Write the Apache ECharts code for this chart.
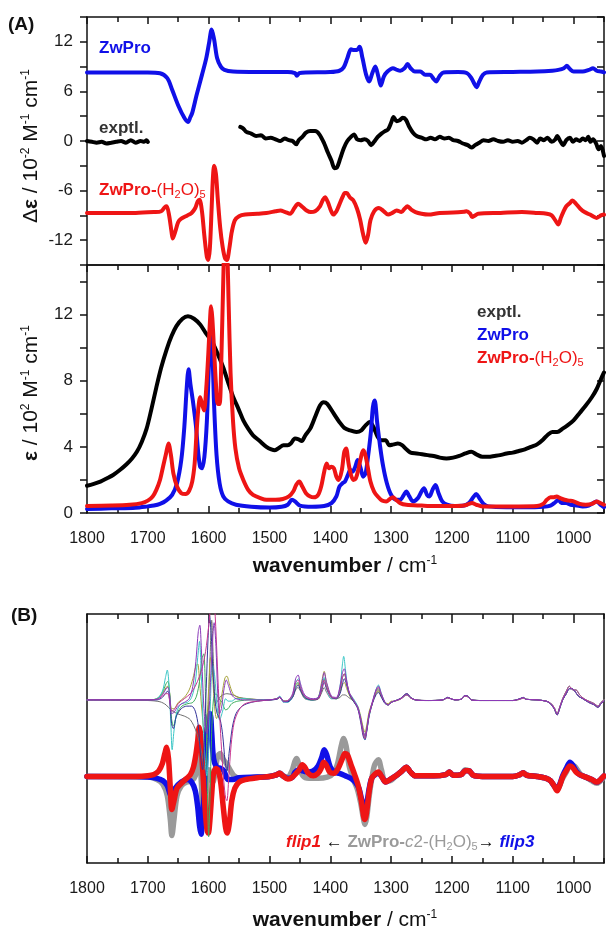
<!DOCTYPE html>
<html>
<head>
<meta charset="utf-8">
<script src="https://cdn.jsdelivr.net/npm/echarts@6/dist/echarts.min.js"></script>
<style>
  html, body { margin: 0; padding: 0; background: #fff; }
  #chart { width: 606px; height: 928px; }
</style>
</head>
<body>
<div id="chart"></div>
<script>
// ---------- axis ticks and labels ----------
const wnMajor = [1800, 1700, 1600, 1500, 1400, 1300, 1200, 1100, 1000];
const wnMinor = [1750, 1650, 1550, 1450, 1350, 1250, 1150, 1050, 950];
const vcdTicks = [-15, -12, -9, -6, -3, 0, 3, 6, 9, 12, 15];
const vcdLabels = [-12, -6, 0, 6, 12];
const irTicks = [0, 2, 4, 6, 8, 10, 12, 14];
const irLabels = [0, 4, 8, 12];

// ---------- (A) VCD, stacked (Δε / 10^-2 M^-1 cm^-1) ----------
const vcdZwPro = [[1800,8.3],[1750,8.3],[1700,8.3],[1680,8.2],[1668,7.6],[1660,6.2],[1650,4.3],[1640,2.8],[1634,2.3],[1630,2.9],[1627,3.4],[1620,5.5],[1611,8.0],[1604,10.0],[1599,12.0],[1595,13.5],[1591,12.3],[1586,10.0],[1580,9.0],[1574,8.6],[1560,8.4],[1520,8.35],[1470,8.35],[1458,8.2],[1455,7.9],[1451,8.2],[1440,8.3],[1400,8.35],[1385,8.5],[1378,8.9],[1372,10.0],[1366,11.1],[1361,11.0],[1356,11.0],[1352,11.4],[1347,10.0],[1341,8.0],[1336,7.2],[1331,8.2],[1326,9.0],[1321,7.8],[1317,6.7],[1312,7.8],[1306,8.4],[1297,8.8],[1290,8.6],[1285,8.5],[1278,8.8],[1273,9.3],[1268,8.8],[1261,8.4],[1252,8.4],[1244,8.0],[1236,8.0],[1230,7.5],[1226,7.2],[1220,7.9],[1214,8.3],[1190,8.35],[1175,8.2],[1168,7.6],[1163,6.9],[1159.5,6.5],[1155,7.2],[1149,8.0],[1143,8.3],[1100,8.35],[1060,8.4],[1035,8.5],[1025,8.6],[1016,8.8],[1011,9.1],[1006,8.7],[1000,8.4],[985,8.4],[975,8.6],[968,8.8],[962,8.5],[955,8.4],[950,8.3]];
const vcdExptlHigh = [[1800,0.0],[1792,-0.1],[1784,-0.2],[1776,-0.1],[1768,-0.3],[1760,-0.2],[1752,-0.1],[1744,0.0],[1736,-0.2],[1728,0.1],[1720,-0.2],[1712,0.0],[1706,-0.1],[1702,0.1],[1700,-0.1]];
const vcdExptlLow = [[1548,1.7],[1543,1.5],[1538,1.1],[1530,0.9],[1522,0.6],[1514,0.7],[1506,0.3],[1498,0.4],[1490,0.2],[1482,0.0],[1475,0.3],[1468,0.1],[1462,0.0],[1456,-0.4],[1452,0.1],[1446,0.5],[1440,1.0],[1433,1.2],[1425,1.2],[1418,0.8],[1410,-0.3],[1404,-1.4],[1398,-2.4],[1393,-3.3],[1389,-3.2],[1384,-2.2],[1378,-0.9],[1372,0.0],[1366,0.5],[1361,0.8],[1356,0.2],[1350,0.1],[1344,0.2],[1338,0.0],[1333,-0.5],[1328,-0.1],[1322,0.5],[1316,0.9],[1310,1.2],[1305,1.4],[1300,2.2],[1296,2.9],[1291,2.4],[1286,2.5],[1281,2.8],[1276,2.6],[1270,1.7],[1264,1.0],[1258,0.6],[1250,0.4],[1242,0.2],[1235,0.4],[1228,0.2],[1220,0.5],[1212,0.3],[1205,0.4],[1198,0.1],[1190,0.0],[1182,-0.3],[1174,-0.5],[1168,-0.8],[1162,-0.5],[1155,-0.2],[1148,0.1],[1140,0.0],[1132,0.2],[1124,0.0],[1116,-0.1],[1108,0.1],[1100,-0.1],[1092,0.0],[1085,-0.2],[1078,0.1],[1072,0.4],[1066,0.2],[1060,-0.2],[1055,0.3],[1049,0.1],[1043,0.4],[1036,-0.1],[1030,0.2],[1027,0.6],[1022,0.0],[1017,-0.5],[1012,0.1],[1006,0.4],[1001,-0.1],[996,0.2],[990,0.0],[985,0.3],[980,0.1],[976,0.5],[972,-0.1],[968,0.2],[963,-0.3],[959,-1.0],[955,-0.6],[950,-1.8]];
const vcdHydrate = [[1800,-8.7],[1720,-8.7],[1690,-8.6],[1678,-8.5],[1672,-8.0],[1669,-7.9],[1665,-9.0],[1661,-11.0],[1659,-11.8],[1655,-11.0],[1650,-9.8],[1645,-9.4],[1635,-9.0],[1628,-8.7],[1622,-8.1],[1618,-7.3],[1615,-7.1],[1611,-8.5],[1607,-11.5],[1603,-14.0],[1600.5,-14.4],[1598,-13.0],[1595,-8.0],[1593,-4.5],[1591,-3.0],[1588,-4.0],[1585,-7.0],[1581,-10.5],[1577,-12.8],[1573,-14.2],[1570,-14.4],[1566,-13.0],[1562,-11.0],[1557,-9.6],[1550,-9.1],[1540,-8.9],[1520,-8.8],[1505,-8.7],[1490,-8.5],[1482,-8.4],[1474,-8.6],[1466,-8.8],[1459,-8.1],[1453,-7.6],[1447,-7.9],[1439,-8.4],[1432,-8.6],[1425,-8.5],[1417,-7.9],[1412,-7.1],[1408.7,-6.8],[1404,-7.4],[1399,-8.4],[1395,-8.9],[1390,-8.5],[1386.8,-8.0],[1380,-6.8],[1376,-6.3],[1373,-6.3],[1368,-6.8],[1362,-7.2],[1356,-8.2],[1351,-9.5],[1346,-11.3],[1342,-12.3],[1338,-11.4],[1334,-9.6],[1328,-8.5],[1320,-8.1],[1312,-8.5],[1305,-8.9],[1298,-8.7],[1291,-8.4],[1283,-8.6],[1278,-8.2],[1273,-7.9],[1267,-8.3],[1260,-8.6],[1250,-8.8],[1239,-8.9],[1220,-8.7],[1198,-8.65],[1180,-8.55],[1176,-8.5],[1170,-8.8],[1167,-9.2],[1162,-9.0],[1157,-8.8],[1120,-8.7],[1085,-8.6],[1060,-8.7],[1044,-8.8],[1036,-9.0],[1030,-9.6],[1025,-10.1],[1021,-9.3],[1017,-8.6],[1012,-7.9],[1006,-7.5],[1002,-7.2],[996,-7.6],[989,-8.2],[982,-8.6],[973,-8.9],[966,-9.2],[962,-9.3],[955,-9.0],[950,-8.9]];

// ---------- (A) IR absorption (ε / 10^2 M^-1 cm^-1) ----------
const irExptl = [[1800,1.65],[1790,1.75],[1778,1.9],[1767,2.1],[1757,2.3],[1746,2.6],[1735,2.95],[1726,3.3],[1718,3.7],[1710,4.3],[1702,5.1],[1694,6.3],[1686,7.6],[1678,8.8],[1669,9.9],[1661,10.7],[1653,11.3],[1643,11.75],[1634,11.9],[1624,11.75],[1614,11.4],[1605,10.9],[1595,10.4],[1586,9.7],[1576,8.8],[1568,7.9],[1560,7.05],[1551,6.3],[1543,5.6],[1535,5.1],[1527,4.7],[1516,4.35],[1505,4.0],[1497,3.85],[1491,3.8],[1484,3.95],[1477,4.1],[1470,4.1],[1465,4.2],[1458,4.5],[1452,4.45],[1447,4.35],[1441,4.7],[1433,5.1],[1424,5.9],[1417,6.5],[1411,6.7],[1405,6.6],[1395,6.05],[1385,5.5],[1377,5.15],[1368,5.0],[1357,4.9],[1349,5.0],[1342,5.3],[1335,5.5],[1329,5.2],[1322,4.6],[1316,4.4],[1309,4.4],[1303,4.1],[1296,4.15],[1289,4.2],[1282,4.1],[1275,3.85],[1268,3.65],[1258,3.6],[1249,3.55],[1240,3.5],[1230,3.45],[1220,3.35],[1209,3.3],[1198,3.35],[1188,3.45],[1178,3.6],[1168,3.7],[1160,3.55],[1150,3.4],[1140,3.4],[1130,3.45],[1121,3.5],[1110,3.6],[1100,3.65],[1090,3.75],[1080,3.85],[1070,4.0],[1060,4.15],[1050,4.45],[1042,4.75],[1035,4.9],[1027,4.9],[1018,5.1],[1010,5.3],[1000,5.6],[990,6.05],[980,6.5],[970,7.0],[962,7.5],[955,8.1],[950,8.5]];
const irZwPro = [[1800,0.24],[1760,0.28],[1720,0.32],[1700,0.4],[1690,0.45],[1680,0.55],[1670,0.75],[1660,1.1],[1652,1.8],[1645,3.2],[1640,5.2],[1636,7.6],[1633,8.7],[1630,7.8],[1626,6.8],[1621,5.3],[1617,3.6],[1614,2.8],[1611,2.7],[1607,3.4],[1603,5.5],[1600,8.5],[1597,10.9],[1594,9.8],[1591,6.5],[1587,3.5],[1582,1.8],[1576,1.0],[1568,0.7],[1555,0.5],[1530,0.38],[1500,0.33],[1480,0.38],[1470,0.5],[1463,0.8],[1458,0.7],[1450,0.45],[1430,0.38],[1410,0.42],[1398,0.6],[1390,1.0],[1385,1.6],[1380,1.8],[1376,1.9],[1371,2.3],[1367,2.6],[1363,2.5],[1359,2.8],[1355,3.2],[1350,2.7],[1346,2.2],[1342,2.4],[1338,3.4],[1333,5.0],[1330,6.4],[1327,6.8],[1323,5.5],[1318,4.0],[1313,2.8],[1307,1.8],[1300,1.1],[1292,0.8],[1285,0.8],[1279,1.1],[1275,1.3],[1270,1.0],[1264,0.7],[1256,0.9],[1250,1.3],[1246,1.5],[1241,1.1],[1237,1.0],[1232,1.4],[1227,1.7],[1222,1.2],[1216,0.7],[1208,0.5],[1195,0.42],[1180,0.45],[1172,0.6],[1165,0.95],[1160,1.15],[1155,0.9],[1148,0.55],[1140,0.4],[1110,0.35],[1080,0.35],[1050,0.38],[1038,0.45],[1030,0.65],[1025,0.8],[1020,0.6],[1012,0.6],[1005,0.5],[995,0.45],[985,0.4],[975,0.45],[968,0.6],[962,0.7],[956,0.5],[950,0.35]];
const irHydrate = [[1800,0.42],[1760,0.45],[1730,0.5],[1710,0.6],[1700,0.75],[1692,1.0],[1686,1.4],[1680,2.0],[1675,2.8],[1670,3.6],[1666,4.2],[1662,3.5],[1658,2.4],[1652,1.6],[1645,1.2],[1638,1.15],[1632,1.35],[1627,1.9],[1623,3.0],[1620,4.8],[1617,6.3],[1614,7.0],[1611,6.6],[1607.6,6.2],[1604,7.5],[1600.6,9.6],[1598,11.5],[1596,12.5],[1594,11.8],[1591,9.8],[1588,7.8],[1585,6.6],[1582,6.6],[1579,9.5],[1576,14.0],[1573,17.5],[1570,16.5],[1567,12.5],[1564,8.5],[1560,5.6],[1556,3.9],[1550,2.7],[1543,2.0],[1535,1.4],[1527,1.1],[1515,0.9],[1505,0.8],[1490,0.8],[1478,0.85],[1468,1.0],[1461,1.3],[1456,1.7],[1451,1.9],[1446,1.6],[1440,1.2],[1433,1.0],[1427,0.95],[1420,1.1],[1415,1.6],[1410,2.5],[1406,3.0],[1402,2.7],[1398,2.8],[1394,2.7],[1390,2.2],[1386,2.0],[1381,2.6],[1377,3.7],[1374,3.9],[1370,3.0],[1366,2.3],[1362,2.0],[1358,2.1],[1354,2.6],[1350,3.3],[1346,3.8],[1343,3.6],[1339,2.9],[1334,1.9],[1328,1.3],[1322,1.0],[1315,0.75],[1308,0.7],[1302,0.85],[1297,0.95],[1292,0.8],[1285,0.6],[1275,0.5],[1250,0.45],[1230,0.42],[1200,0.42],[1180,0.45],[1172,0.55],[1167,0.6],[1160,0.5],[1150,0.4],[1120,0.4],[1090,0.4],[1060,0.42],[1050,0.55],[1044,0.8],[1038,0.95],[1033,0.95],[1028,1.0],[1022,0.9],[1015,0.8],[1008,0.75],[1000,0.7],[990,0.55],[980,0.5],[970,0.55],[962,0.7],[956,0.6],[950,0.5]];

// ---------- (B) conformer VCD, arbitrary units, stacked ----------
// individual ZwPro-c2-(H2O)5 structures (upper trace group), 1800-1300 cm-1
const confCyan = [[1800,3.1],[1700,3.1],[1685,3.2],[1676,3.8],[1671,4.9],[1668,5.5],[1665,4.2],[1662,1.0],[1660,-0.9],[1657,0.6],[1652,2.2],[1645,2.8],[1635,2.9],[1628,3.3],[1622,4.5],[1618,6.5],[1615,7.8],[1612,5.0],[1609,1.0],[1606,-1.5],[1603,-3.0],[1600,-1.0],[1597,3.0],[1594,6.0],[1590,5.0],[1586,2.5],[1582,1.5],[1577,2.2],[1572,3.2],[1568,3.0],[1562,3.0],[1555,3.2],[1540,3.2],[1520,3.1],[1490,3.15],[1483,3.4],[1477,2.9],[1470,2.9],[1462,3.4],[1456,4.6],[1452,4.8],[1448,4.0],[1440,3.2],[1430,3.1],[1420,3.3],[1414,4.3],[1410,4.9],[1406,4.0],[1398,3.2],[1390,3.2],[1384,4.2],[1380,6.0],[1378,6.6],[1375,5.5],[1370,3.8],[1362,3.2],[1355,2.6],[1350,1.6],[1346,0.4],[1343,-0.1],[1340,0.6],[1336,1.8],[1330,3.0],[1325,3.9],[1321,4.3],[1316,3.6],[1310,2.9],[1305,2.7],[1300,2.9]];
const confPurple = [[1800,3.1],[1700,3.1],[1685,3.15],[1676,3.5],[1670,4.0],[1667,4.1],[1664,3.4],[1661,2.0],[1657,2.1],[1650,2.6],[1640,2.9],[1632,3.2],[1626,4.2],[1621,6.2],[1617,8.6],[1614.5,9.1],[1612,7.2],[1609,3.6],[1606,1.2],[1603,0.4],[1600,1.6],[1597,4.5],[1594,7.5],[1591,9.3],[1588,7.4],[1585,3.6],[1582,2.0],[1579,2.4],[1575,3.9],[1571,4.7],[1567,4.2],[1562,3.5],[1555,3.2],[1540,3.1],[1500,3.1],[1488,3.2],[1483,3.35],[1477,2.95],[1470,3.0],[1462,3.6],[1457,4.8],[1453,5.1],[1449,4.4],[1442,3.5],[1430,3.2],[1420,3.3],[1414,4.4],[1410,5.3],[1406,4.5],[1398,3.4],[1390,3.3],[1384,4.2],[1380,5.3],[1377,5.6],[1374,4.9],[1369,3.7],[1362,3.1],[1355,2.5],[1350,1.6],[1346,0.6],[1343,0.2],[1340,0.8],[1336,2.0],[1330,3.1],[1325,3.9],[1321,4.2],[1316,3.6],[1310,2.9],[1305,2.7],[1300,2.9]];
const confOlive = [[1800,3.1],[1700,3.1],[1685,3.2],[1676,3.6],[1670,4.1],[1667,4.2],[1664,3.6],[1661,2.4],[1657,2.4],[1650,2.9],[1640,3.3],[1632,3.9],[1626,4.8],[1621,5.8],[1618,6.0],[1615,4.6],[1611,2.2],[1607,0.5],[1603,1.5],[1600,4.0],[1597,6.5],[1594,5.5],[1591,3.0],[1587,1.6],[1583,2.2],[1578,3.6],[1573,4.9],[1570,5.0],[1566,4.4],[1560,3.6],[1552,3.3],[1540,3.2],[1500,3.1],[1488,3.2],[1483,3.3],[1477,3.0],[1470,3.0],[1462,3.4],[1457,4.2],[1453,4.4],[1449,4.0],[1442,3.3],[1430,3.1],[1420,3.3],[1414,4.6],[1410,5.4],[1406,4.4],[1398,3.3],[1390,3.2],[1384,3.7],[1380,4.3],[1377,4.5],[1373,4.0],[1368,3.4],[1362,3.0],[1355,2.6],[1350,1.8],[1346,0.9],[1343,0.5],[1340,1.1],[1336,2.2],[1330,3.0],[1325,3.6],[1321,3.8],[1316,3.4],[1310,2.9],[1305,2.8],[1300,3.0]];
const confNavy = [[1800,3.1],[1700,3.1],[1685,3.1],[1676,3.3],[1670,3.7],[1667,3.8],[1664,3.0],[1661,1.2],[1658,0.8],[1653,1.8],[1645,2.4],[1636,2.6],[1628,2.6],[1622,2.2],[1617,1.0],[1613,-1.5],[1610,-2.5],[1607,0.0],[1604,4.0],[1601,8.0],[1598.5,9.9],[1596,8.5],[1593,5.5],[1590,3.2],[1586,2.0],[1581,1.5],[1577,0.3],[1573,-1.8],[1570,-2.6],[1566,-1.0],[1561,0.9],[1555,2.0],[1545,2.6],[1530,2.9],[1510,3.05],[1488,3.15],[1483,3.3],[1477,3.0],[1470,2.95],[1462,3.3],[1457,4.0],[1453,4.3],[1449,3.9],[1442,3.3],[1430,3.1],[1420,3.2],[1414,3.9],[1410,4.5],[1406,4.0],[1398,3.3],[1390,3.2],[1384,3.6],[1380,4.4],[1377,4.8],[1373,4.3],[1368,3.5],[1362,3.0],[1355,2.4],[1350,1.3],[1346,0.2],[1343,-0.1],[1340,0.6],[1336,1.9],[1330,2.9],[1325,3.5],[1321,3.7],[1316,3.3],[1310,2.8],[1305,2.7],[1300,2.9]];
const confMagenta = [[1800,3.1],[1700,3.1],[1685,3.15],[1676,3.4],[1670,3.6],[1667,3.6],[1664,3.0],[1661,2.2],[1657,2.3],[1650,2.8],[1640,3.2],[1630,3.6],[1622,4.2],[1615,5.0],[1610,5.8],[1605,7.0],[1600,9.0],[1596,11.0],[1593,12.0],[1590,10.5],[1587,7.5],[1584,4.0],[1581,1.0],[1578,-1.5],[1575,-3.5],[1572,-4.8],[1570,-5.0],[1567,-3.2],[1563,-0.5],[1558,1.3],[1550,2.3],[1540,2.8],[1520,3.0],[1500,3.1],[1488,3.2],[1483,3.3],[1477,3.0],[1470,3.05],[1462,3.5],[1457,4.5],[1453,4.7],[1449,4.1],[1442,3.4],[1430,3.15],[1420,3.2],[1414,4.0],[1410,4.7],[1406,4.1],[1398,3.3],[1390,3.25],[1384,4.0],[1380,4.9],[1377,5.2],[1373,4.5],[1368,3.6],[1362,3.1],[1355,2.5],[1350,1.5],[1346,0.4],[1343,0.0],[1340,0.7],[1336,1.9],[1330,3.0],[1325,3.8],[1321,4.1],[1316,3.5],[1310,2.9],[1305,2.7],[1300,2.9]];
const confGreen = [[1800,3.1],[1700,3.1],[1685,3.2],[1676,3.7],[1670,4.4],[1667,4.6],[1664,3.6],[1661,1.6],[1658,1.0],[1652,2.0],[1644,2.6],[1634,2.8],[1626,2.9],[1620,3.4],[1615,4.6],[1611,6.4],[1608,6.8],[1605,3.0],[1602,-4.0],[1600,-7.9],[1598,-5.0],[1595,0.5],[1592,3.2],[1588,3.6],[1583,3.2],[1578,2.9],[1572,2.3],[1568,2.4],[1562,2.8],[1552,3.0],[1530,3.1],[1500,3.1],[1488,3.2],[1483,3.3],[1477,3.0],[1470,3.0],[1462,3.4],[1457,4.3],[1453,4.5],[1449,4.0],[1442,3.3],[1430,3.1],[1420,3.2],[1414,4.1],[1410,4.8],[1406,4.1],[1398,3.3],[1390,3.2],[1384,3.9],[1380,4.9],[1377,5.2],[1373,4.4],[1368,3.5],[1362,3.0],[1355,2.5],[1350,1.5],[1346,0.5],[1343,0.1],[1340,0.7],[1336,1.9],[1330,3.0],[1325,3.8],[1321,4.0],[1316,3.4],[1310,2.9],[1305,2.7],[1300,2.9]];
const confDark = [[1800,3.1],[1700,3.05],[1680,2.95],[1670,2.7],[1662,2.3],[1652,2.0],[1640,1.8],[1630,1.5],[1620,0.5],[1612,-1.0],[1606,-2.5],[1602,0.0],[1598,6.0],[1595,9.5],[1592,6.0],[1588,2.8],[1580,3.4],[1570,3.6],[1560,3.5],[1550,3.3],[1535,3.2],[1510,3.1],[1488,3.15],[1483,3.3],[1477,3.0],[1470,3.0],[1462,3.3],[1457,3.9],[1453,4.1],[1449,3.8],[1442,3.2],[1430,3.1],[1420,3.15],[1414,3.7],[1410,4.1],[1406,3.7],[1398,3.2],[1390,3.2],[1384,3.3],[1380,3.5],[1376,3.5],[1370,3.3],[1362,3.0],[1355,2.5],[1350,1.6],[1346,0.6],[1343,0.3],[1340,0.9],[1336,2.0],[1330,3.0],[1325,3.6],[1321,3.9],[1316,3.4],[1310,2.9],[1305,2.7],[1300,2.9]];
// 1295-950 cm-1, where the individual structures nearly coincide
const confTailA = [[1295,3.0],[1285,3.2],[1278,3.5],[1274,3.6],[1268,3.3],[1260,3.1],[1240,3.05],[1215,3.1],[1207,3.3],[1202,3.2],[1195,3.1],[1185,3.15],[1179,3.45],[1174,3.4],[1168,3.1],[1150,3.05],[1100,3.05],[1088,3.2],[1083,3.3],[1078,3.15],[1060,3.1],[1045,3.0],[1038,2.8],[1032,2.4],[1027,1.9],[1023,2.4],[1018,3.1],[1012,3.6],[1007,4.0],[1003,4.0],[998,3.8],[992,3.4],[985,3.2],[975,2.9],[966,2.7],[960,2.5],[955,2.8],[950,3.0]];
const confTailB = [[1295,3.0],[1285,3.15],[1278,3.4],[1274,3.5],[1268,3.25],[1260,3.1],[1240,3.05],[1215,3.1],[1207,3.25],[1202,3.2],[1195,3.1],[1185,3.15],[1179,3.4],[1174,3.35],[1168,3.1],[1150,3.05],[1100,3.05],[1088,3.15],[1083,3.25],[1078,3.15],[1060,3.1],[1045,3.0],[1038,2.85],[1032,2.5],[1027,2.0],[1023,2.5],[1018,3.2],[1012,3.8],[1007,4.2],[1001,3.9],[996,3.9],[990,3.5],[983,3.2],[975,3.0],[966,2.8],[960,2.6],[955,2.9],[950,3.1]];

// averaged spectra (lower trace group)
const avgC2 = [[1800,-3.05],[1700,-3.1],[1685,-3.3],[1675,-3.7],[1668,-4.6],[1663,-6.5],[1660.5,-7.8],[1657,-6.5],[1652,-4.6],[1645,-3.8],[1636,-3.5],[1628,-3.4],[1622,-3.0],[1618,-1.8],[1615,-1.0],[1612,-3.5],[1609,-6.5],[1606,-6.0],[1603,-3.5],[1600,-2.5],[1597,-3.2],[1593,-3.5],[1589,-2.5],[1585,-1.4],[1581,-1.2],[1577,-1.6],[1571,-2.0],[1565,-2.5],[1558,-3.0],[1548,-3.2],[1520,-3.1],[1500,-3.05],[1490,-2.95],[1483,-2.8],[1478,-3.0],[1470,-3.1],[1463,-2.6],[1458,-1.8],[1455,-1.6],[1451,-2.2],[1445,-3.0],[1435,-3.2],[1420,-3.2],[1405,-3.1],[1395,-2.8],[1388,-2.0],[1382,-0.6],[1378,0.0],[1374,-0.6],[1369,-2.2],[1362,-3.3],[1356,-4.0],[1350,-5.2],[1346,-6.3],[1343,-6.9],[1340,-6.3],[1336,-4.6],[1331,-3.0],[1327,-2.1],[1321,-1.7],[1316,-2.5],[1310,-3.4],[1302,-3.4],[1292,-3.0],[1282,-2.6],[1275,-2.3],[1268,-2.7],[1260,-3.0],[1230,-3.0],[1210,-2.9],[1204,-2.7],[1198,-2.95],[1185,-2.9],[1178,-2.5],[1172,-2.6],[1165,-2.95],[1150,-3.05],[1100,-3.05],[1088,-2.9],[1083,-2.75],[1077,-2.95],[1060,-3.05],[1045,-3.2],[1038,-3.4],[1032,-3.8],[1027,-4.1],[1023,-3.8],[1018,-3.2],[1012,-2.7],[1006,-2.2],[999,-2.2],[994,-2.5],[988,-2.9],[980,-3.1],[970,-3.4],[962,-3.6],[958,-3.5],[952,-3.2],[950,-3.1]];
const avgFlip3 = [[1800,-3.05],[1720,-3.05],[1700,-3.1],[1685,-3.2],[1675,-3.4],[1668,-3.8],[1663,-4.5],[1660,-4.6],[1655,-4.0],[1645,-3.5],[1635,-3.3],[1628,-3.5],[1622,-4.2],[1618,-5.5],[1615,-7.0],[1612.5,-7.7],[1610,-6.5],[1606,-3.0],[1603,0.0],[1600,1.6],[1597.5,2.0],[1595,0.5],[1592,-1.6],[1587,-2.3],[1580,-2.4],[1575,-2.6],[1568,-3.3],[1560,-3.3],[1550,-3.15],[1520,-3.1],[1500,-3.05],[1490,-2.95],[1483,-2.8],[1478,-3.0],[1470,-3.2],[1462,-3.1],[1458,-2.7],[1452,-2.5],[1445,-2.6],[1436,-2.7],[1428,-2.6],[1420,-2.2],[1414,-1.5],[1410,-0.9],[1406,-1.3],[1400,-2.3],[1393,-2.7],[1385,-2.8],[1375,-3.0],[1366,-3.2],[1359,-3.5],[1353,-4.0],[1349,-4.8],[1345,-5.5],[1343,-5.7],[1340,-5.2],[1336,-4.0],[1332,-3.2],[1326,-2.9],[1321,-2.8],[1315,-3.1],[1309,-3.5],[1302,-3.3],[1292,-3.0],[1282,-2.6],[1275,-2.3],[1268,-2.7],[1260,-3.0],[1230,-3.0],[1210,-2.9],[1204,-2.7],[1198,-2.95],[1185,-2.9],[1178,-2.6],[1172,-2.6],[1165,-2.95],[1150,-3.05],[1100,-3.05],[1088,-2.9],[1083,-2.75],[1077,-2.95],[1060,-3.05],[1045,-3.2],[1038,-3.4],[1032,-3.8],[1027,-4.0],[1023,-3.7],[1018,-3.0],[1012,-2.4],[1006,-1.9],[1002,-2.1],[996,-2.6],[990,-2.9],[980,-3.1],[970,-3.3],[962,-3.5],[958,-3.4],[952,-3.1],[950,-3.0]];
const avgFlip1 = [[1800,-3.05],[1720,-3.05],[1700,-3.0],[1690,-2.9],[1682,-2.6],[1676,-2.0],[1672,-1.2],[1669,-0.7],[1666,-1.6],[1663,-4.0],[1660.5,-5.7],[1657,-5.0],[1652,-4.0],[1645,-3.6],[1636,-3.2],[1630,-2.9],[1625,-2.3],[1621,-1.3],[1618,-0.2],[1615.5,0.9],[1613,0.2],[1610,-2.3],[1606,-5.5],[1603,-7.2],[1600.5,-7.6],[1598,-6.6],[1595,-4.5],[1592,-2.8],[1588,-2.4],[1584,-2.6],[1580,-3.6],[1576,-5.5],[1572,-7.2],[1569.5,-7.6],[1566,-6.8],[1562,-5.0],[1557,-4.0],[1550,-3.5],[1540,-3.3],[1520,-3.15],[1500,-3.05],[1490,-2.95],[1483,-2.8],[1478,-3.0],[1470,-3.25],[1465,-3.2],[1458,-2.9],[1451,-2.5],[1446,-2.1],[1442,-2.3],[1436,-2.8],[1428,-3.0],[1420,-2.8],[1415,-2.4],[1411,-1.9],[1407,-2.1],[1401,-2.7],[1394,-2.8],[1387,-2.4],[1380,-1.6],[1376,-1.2],[1372,-1.3],[1366,-2.1],[1360,-2.9],[1354,-3.8],[1349,-5.0],[1345,-6.3],[1343,-6.5],[1340,-5.8],[1336,-4.2],[1332,-3.2],[1327,-2.9],[1321,-2.7],[1315,-3.1],[1309,-3.5],[1302,-3.3],[1292,-3.0],[1282,-2.6],[1275,-2.3],[1268,-2.7],[1260,-3.0],[1230,-3.0],[1210,-2.9],[1204,-2.7],[1198,-2.95],[1185,-2.9],[1178,-2.6],[1172,-2.6],[1165,-2.95],[1150,-3.05],[1100,-3.05],[1088,-2.9],[1083,-2.75],[1077,-2.95],[1060,-3.05],[1045,-3.2],[1038,-3.4],[1032,-3.8],[1027,-4.2],[1023,-3.8],[1018,-3.1],[1012,-2.6],[1006,-2.2],[1002,-2.3],[996,-2.7],[990,-2.9],[980,-3.1],[970,-3.3],[962,-3.5],[958,-3.4],[952,-3.1],[950,-3.0]];

// ---------- styling ----------
const FONT = '"Liberation Sans", Arial, sans-serif';
const BLUE = '#1010e8';
const RED = '#ee1515';
const BLACK = '#000000';
const GREY = '#9a9a9a';
const AXIS = '#111111';

const chart = echarts.init(document.getElementById('chart'), null, { renderer: 'canvas' });

const grids = [
  { left: 87, top: 17, width: 517, height: 248 },
  { left: 87, top: 265, width: 517, height: 248 },
  { left: 87, top: 614, width: 517, height: 249 }
];

function xAxis(gi, pos, o) {
  o = o || {};
  return {
    type: 'value', gridIndex: gi, position: pos, min: 950, max: 1800, inverse: true,
    splitLine: { show: false },
    axisLine: { show: o.line !== false, onZero: false, lineStyle: { color: AXIS, width: 1.5 } },
    axisTick: o.ticks ? { show: true, inside: true, length: o.len || 7, customValues: o.ticks, lineStyle: { color: AXIS, width: 1.5 } } : { show: false },
    axisLabel: o.labels ? {
      show: true, customValues: o.labels, margin: 18, fontFamily: FONT, fontSize: 16, color: '#1a1a1a',
      formatter: function (v) { return String(v); }
    } : { show: false }
  };
}

function yAxis(gi, pos, min, max, o) {
  o = o || {};
  return {
    type: 'value', gridIndex: gi, position: pos, min: min, max: max,
    splitLine: { show: false },
    axisLine: { show: true, onZero: false, lineStyle: { color: AXIS, width: 1.5 } },
    axisTick: o.ticks ? { show: true, inside: !!o.inside, length: 7, customValues: o.ticks, lineStyle: { color: AXIS, width: 1.5 } } : { show: false },
    axisLabel: o.labels ? {
      show: true, customValues: o.labels, margin: 14, fontFamily: FONT, fontSize: 17, color: '#1a1a1a',
      formatter: function (v) { return String(v); }
    } : { show: false }
  };
}

const xAxes = [
  xAxis(0, 'bottom', {}),                                   // 0 divider between VCD and IR
  xAxis(0, 'top', { ticks: wnMajor }),                      // 1
  xAxis(0, 'top', { line: false, ticks: wnMinor, len: 5 }), // 2
  xAxis(1, 'bottom', { ticks: wnMajor, labels: wnMajor }),  // 3
  xAxis(1, 'bottom', { line: false, ticks: wnMinor, len: 5 }),
  xAxis(1, 'top', { ticks: wnMajor }),
  xAxis(1, 'top', { line: false, ticks: wnMinor, len: 5 }),
  xAxis(2, 'bottom', { ticks: wnMajor, labels: wnMajor }),  // 7
  xAxis(2, 'bottom', { line: false, ticks: wnMinor, len: 5 }),
  xAxis(2, 'top', { ticks: wnMajor, len: 9 }),
  xAxis(2, 'top', { line: false, ticks: wnMinor, len: 5 })
];

const yAxes = [
  yAxis(0, 'left', -15, 15, { ticks: vcdTicks, labels: vcdLabels }),
  yAxis(0, 'right', -15, 15, { ticks: vcdTicks, inside: true }),
  yAxis(1, 'left', 0, 15, { ticks: irTicks, labels: irLabels }),
  yAxis(1, 'right', 0, 15, { ticks: irTicks, inside: true }),
  yAxis(2, 'left', -10, 10, {}),
  yAxis(2, 'right', -10, 10, {})
];

function line(name, data, xi, yi, color, width, z) {
  return {
    name: name, type: 'line', data: data, xAxisIndex: xi, yAxisIndex: yi,
    showSymbol: false, symbol: 'none', smooth: 0.3, clip: true, z: z || 2,
    lineStyle: { color: color, width: width, join: 'round', cap: 'round' },
    emphasis: { disabled: true }
  };
}

const conformers = [
  ['c-grey', confDark, '#6f6f6f', confTailA],
  ['c-olive', confOlive, '#a6a23c', confTailB],
  ['c-green', confGreen, '#3fae5c', confTailA],
  ['c-cyan', confCyan, '#3cc6c6', confTailB],
  ['c-navy', confNavy, '#34349a', confTailA],
  ['c-magenta', confMagenta, '#c83690', confTailB],
  ['c-purple', confPurple, '#8a3ab9', confTailA]
];

const series = [
  line('VCD ZwPro', vcdZwPro, 0, 0, BLUE, 4),
  line('VCD exptl a', vcdExptlHigh, 0, 0, BLACK, 4),
  line('VCD exptl b', vcdExptlLow, 0, 0, BLACK, 4),
  line('VCD ZwPro-(H2O)5', vcdHydrate, 0, 0, RED, 4),
  line('IR exptl', irExptl, 3, 2, BLACK, 4),
  line('IR ZwPro', irZwPro, 3, 2, BLUE, 4),
  line('IR ZwPro-(H2O)5', irHydrate, 3, 2, RED, 4),
  line('ZwPro-c2-(H2O)5', avgC2, 7, 4, GREY, 5.5),
  line('flip3', avgFlip3, 7, 4, BLUE, 5.5),
  line('flip1', avgFlip1, 7, 4, RED, 5.5)
];
conformers.forEach(function (c) {
  series.push(line(c[0], c[1].concat(c[3]), 7, 4, c[2], 1, 3));
});

// text helpers
function label(x, y, text, rich, extra) {
  return Object.assign({
    type: 'text', x: x, y: y, silent: true,
    style: { text: text, fontFamily: FONT, textAlign: 'left', textVerticalAlign: 'middle', rich: rich }
  }, extra || {});
}

function hydrateRich(color, size) {
  return {
    b: { fill: color, fontFamily: FONT, fontSize: size, fontWeight: 'bold' },
    n: { fill: color, fontFamily: FONT, fontSize: size },
    s: { fill: color, fontFamily: FONT, fontSize: 11, padding: [9, 0, 0, 0] }
  };
}

const titleRich = {
  n: { fill: '#111', fontFamily: FONT, fontSize: 21 },
  b: { fill: '#111', fontFamily: FONT, fontSize: 21, fontWeight: 'bold' },
  sup: { fill: '#111', fontFamily: FONT, fontSize: 12, padding: [0, 0, 10, 0] }
};

function title(x, y, text, rotated) {
  const el = {
    type: 'text', x: x, y: y, silent: true,
    style: { text: text, textAlign: 'center', textVerticalAlign: 'middle', rich: titleRich }
  };
  if (rotated) el.rotation = Math.PI / 2;
  return el;
}

const graphics = [
  label(8, 25, '{b|(A)}', { b: { fill: '#111', fontFamily: FONT, fontSize: 19, fontWeight: 'bold' } }),
  label(11, 616, '{b|(B)}', { b: { fill: '#111', fontFamily: FONT, fontSize: 19, fontWeight: 'bold' } }),
  // (A) VCD legend
  label(99, 48, '{b|ZwPro}', { b: { fill: BLUE, fontFamily: FONT, fontSize: 17, fontWeight: 'bold' } }),
  label(99, 128, '{b|exptl.}', { b: { fill: '#333', fontFamily: FONT, fontSize: 17, fontWeight: 'bold' } }),
  label(99, 190, '{b|ZwPro-}{n|(H}{s|2}{n|O)}{s|5}', hydrateRich(RED, 17)),
  // (A) IR legend
  label(477, 312, '{b|exptl.}', { b: { fill: '#333', fontFamily: FONT, fontSize: 17, fontWeight: 'bold' } }),
  label(477, 335, '{b|ZwPro}', { b: { fill: BLUE, fontFamily: FONT, fontSize: 17, fontWeight: 'bold' } }),
  label(477, 358, '{b|ZwPro-}{n|(H}{s|2}{n|O)}{s|5}', hydrateRich(RED, 17)),
  // (B) legend
  label(286, 842, '{r|flip1}{k| ← }{g|ZwPro-}{gi|c}{gn|2-(H}{gs|2}{gn|O)}{gs|5}{k|→ }{bl|flip3}', {
    r: { fill: RED, fontFamily: FONT, fontSize: 17, fontWeight: 'bold', fontStyle: 'italic' },
    bl: { fill: BLUE, fontFamily: FONT, fontSize: 17, fontWeight: 'bold', fontStyle: 'italic' },
    k: { fill: '#111', fontFamily: FONT, fontSize: 17 },
    g: { fill: GREY, fontFamily: FONT, fontSize: 17, fontWeight: 'bold' },
    gi: { fill: GREY, fontFamily: FONT, fontSize: 17, fontStyle: 'italic' },
    gn: { fill: GREY, fontFamily: FONT, fontSize: 17 },
    gs: { fill: GREY, fontFamily: FONT, fontSize: 11, padding: [9, 0, 0, 0] }
  }),
  // axis titles
  title(31, 146, '{n|Δ}{b|ε}{n| / 10}{sup|-2}{n| M}{sup|-1}{n| cm}{sup|-1}', true),
  title(31, 393, '{b|ε}{n| / 10}{sup|2}{n| M}{sup|-1}{n| cm}{sup|-1}', true),
  title(345, 566, '{b|wavenumber}{n| / cm}{sup|-1}', false),
  title(345, 920, '{b|wavenumber}{n| / cm}{sup|-1}', false)
];

chart.setOption({
  animation: false,
  backgroundColor: '#ffffff',
  grid: grids,
  xAxis: xAxes,
  yAxis: yAxes,
  series: series,
  graphic: graphics
});
</script>
</body>
</html>
